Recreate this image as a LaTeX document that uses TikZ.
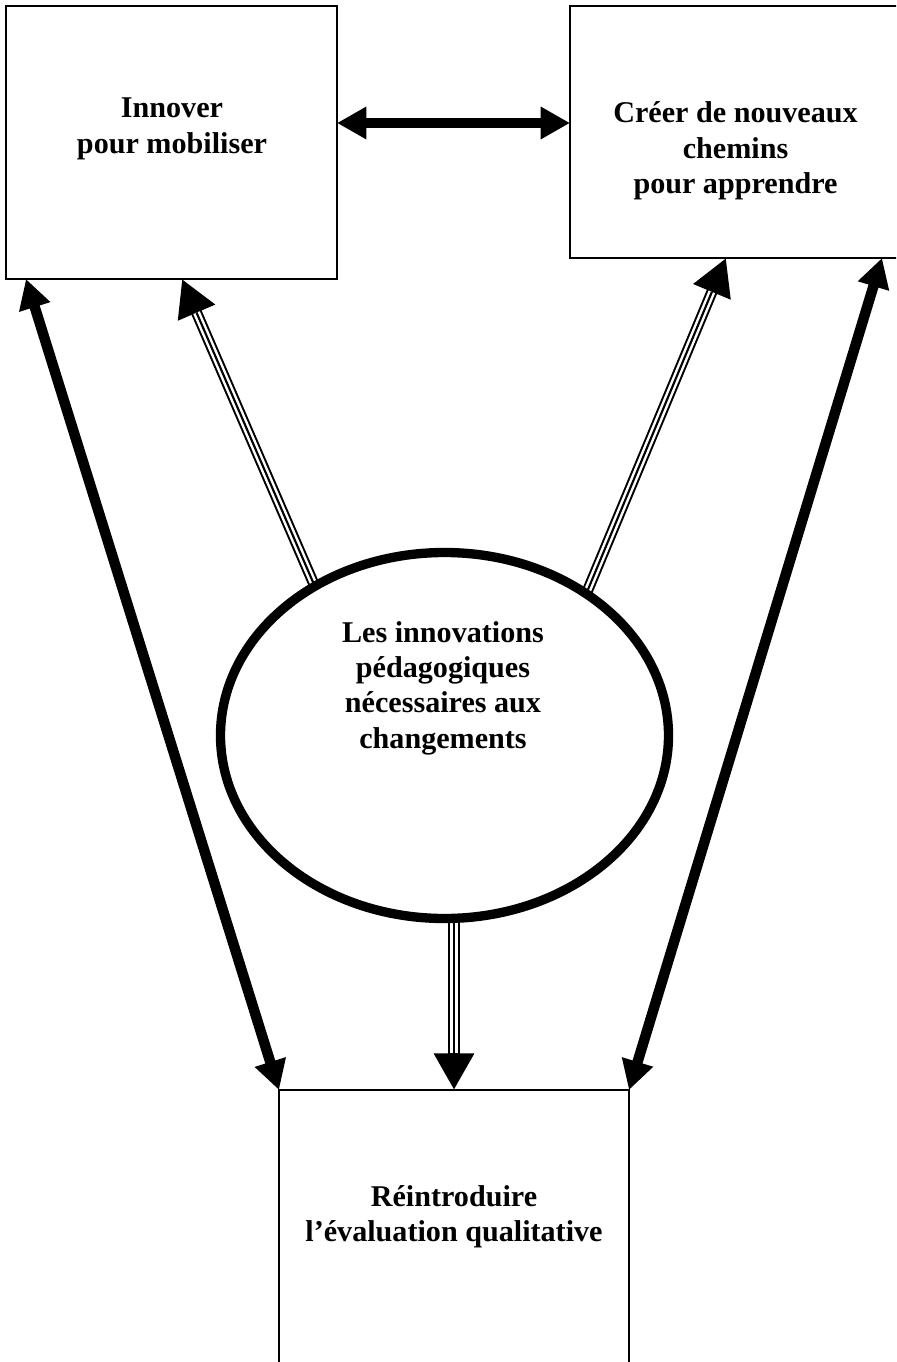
\documentclass[tikz,border=0pt]{standalone}
\usepackage{fontspec}
\setmainfont{Liberation Serif}
\usetikzlibrary{arrows.meta,shapes.geometric}
\pgfdeclarelayer{bg}
\pgfsetlayers{bg,main}
\begin{document}
\begin{tikzpicture}[x=0.75pt,y=-0.75pt,
  boxframe/.style={draw=black, line width=1.4pt, rectangle, inner sep=0pt, outer sep=0pt},
  boxtext/.style={align=center, font=\fontsize{22.6}{26.5}\selectfont\bfseries, inner sep=0pt},
  bigarrow/.style={line width=7.8pt,
    {Triangle[length=22pt,width=23pt]}-{Triangle[length=22pt,width=23pt]}},
  triarrow/.style={line width=8.3pt, -{Triangle[length=27.5pt,width=28.5pt]},
    postaction={draw=white, line width=5.3pt, -, shorten >=27.5pt},
    postaction={draw=black, line width=1.6pt, -, shorten >=27.5pt}}
]
\path[use as bounding box] (0,0) rectangle (896,1362);
\clip (0,0) rectangle (896,1362);

% boxes
\node[boxframe, minimum width=248.25pt, minimum height=204.75pt] (boxA) at (171.5,142.5) {};
\node[boxframe, minimum width=248.25pt, minimum height=189pt] (boxB) at (735.5,132) {};
\node[boxframe, minimum width=262.5pt, minimum height=232.5pt] (boxC) at (454,1245) {};

% central ellipse
\node[draw=black, line width=7pt, ellipse, inner sep=0pt, outer sep=0pt,
      minimum width=336pt, minimum height=274.5pt] (ell) at (444.5,735.5) {};

% texts
\node[boxtext] (tA) at (172,129) {Innover\\pour mobiliser};
\node[boxtext] (tB) at (735.5,151) {Créer de nouveaux\\chemins\\pour apprendre};
\node[boxtext] (tE) at (443,688) {Les innovations\\pédagogiques\\nécessaires aux\\changements};
\node[boxtext] (tC) at (454,1217) {Réintroduire\\l’évaluation qualitative};

% arrow end points on the box borders
\coordinate (hA) at (337,123);
\coordinate (hB) at (570,123);
\coordinate (lA) at (26,279);
\coordinate (rB) at (882,258);
\coordinate (mA) at (182,279);
\coordinate (mB) at (726,258);
\coordinate (mC) at (454,1090);

\begin{pgfonlayer}{bg}
  \fill[white] (0,0) rectangle (896,1362);
  \draw[bigarrow] (hA) -- (hB);
  \draw[bigarrow] (lA) -- (boxC.north west);
  \draw[bigarrow] (rB) -- (boxC.north east);
  \draw[triarrow] (ell.131.4) -- (mA);
  \draw[triarrow] (ell.45.4) -- (mB);
  \draw[triarrow] (ell.south -| mC) -- (mC);
\end{pgfonlayer}
\end{tikzpicture}
\end{document}
